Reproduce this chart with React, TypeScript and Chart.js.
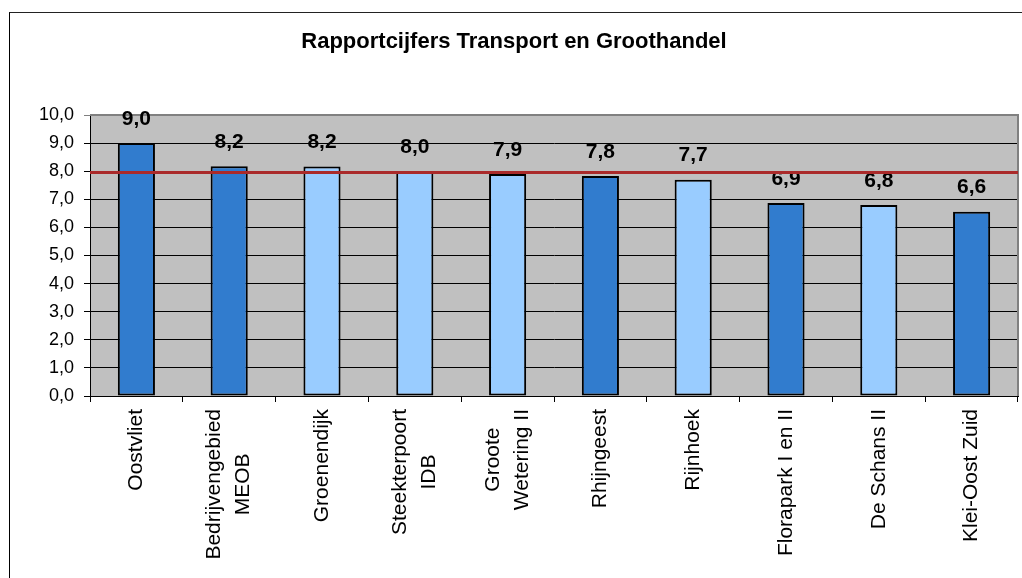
import React, { useEffect, useRef } from 'react';
import { Chart, registerables } from 'chart.js';

Chart.register(...registerables);

const TITLE = 'Rapportcijfers Transport en Groothandel';
const CATEGORIES: string[][] = [
  ['Oostvliet'],
  ['Bedrijvengebied', 'MEOB'],
  ['Groenendijk'],
  ['Steekterpoort', 'IDB'],
  ['Groote', 'Wetering II'],
  ['Rhijngeest'],
  ['Rijnhoek'],
  ['Florapark I en II'],
  ['De Schans II'],
  ['Klei-Oost Zuid'],
];
const SCORES: number[] = [9.0, 8.18, 8.17, 8.0, 7.9, 7.83, 7.7, 6.87, 6.8, 6.56];
const BAR_SHADE: string[] = ['dark', 'dark', 'light', 'light', 'light', 'dark', 'light', 'dark', 'light', 'dark'];
const REFERENCE_LINE = 7.95;
const Y_MIN = 0;
const Y_MAX = 10;
const Y_STEP = 1;

const DARK = '#317cce';
const LIGHT = '#99ccff';
const FONT = "'Liberation Sans', Arial, sans-serif";

const fmt = (v: number) => v.toFixed(1).replace('.', ',');

export default function App() {
  const ref = useRef<HTMLCanvasElement | null>(null);

  useEffect(() => {
    if (!ref.current) return;
    Chart.defaults.font.family = FONT;
    const plotBg = {
      id: 'plotBg',
      beforeDraw(chart: any) {
        const { ctx, chartArea: a } = chart;
        ctx.save();
        ctx.fillStyle = '#c0c0c0';
        ctx.fillRect(a.left, a.top, a.right - a.left, a.bottom - a.top);
        ctx.restore();
      },
      beforeDatasetsDraw(chart: any) {
        const { ctx, chartArea: a } = chart;
        ctx.save();
        ctx.strokeStyle = '#808080';
        ctx.lineWidth = 2;
        ctx.beginPath();
        ctx.moveTo(a.left, a.top);
        ctx.lineTo(a.right, a.top);
        ctx.lineTo(a.right, a.bottom);
        ctx.stroke();
        ctx.restore();
      },
    };
    const overlay = {
      id: 'overlay',
      afterDatasetsDraw(chart: any) {
        const { ctx, chartArea: a } = chart;
        const meta = chart.getDatasetMeta(0);
        ctx.save();
        ctx.font = `bold 21px ${FONT}`;
        ctx.fillStyle = '#000';
        ctx.textAlign = 'center';
        ctx.textBaseline = 'middle';
        meta.data.forEach((bar: any, i: number) => {
          ctx.fillText(fmt(SCORES[i]), bar.x, bar.y - 24);
        });
        const y = chart.scales.y.getPixelForValue(REFERENCE_LINE);
        ctx.strokeStyle = '#aa2a2a';
        ctx.lineWidth = 3;
        ctx.beginPath();
        ctx.moveTo(a.left, y);
        ctx.lineTo(a.right, y);
        ctx.stroke();
        ctx.restore();
      },
      afterDraw(chart: any) {
        const { ctx } = chart;
        const xs = chart.scales.x;
        ctx.save();
        ctx.font = `21px ${FONT}`;
        ctx.fillStyle = '#000';
        ctx.textAlign = 'center';
        ctx.textBaseline = 'middle';
        CATEGORIES.forEach((lines, i) => {
          const px = xs.getPixelForValue(i);
          const w = Math.max(...lines.map((l) => ctx.measureText(l).width));
          ctx.save();
          ctx.translate(px, xs.top + 13 + w / 2);
          ctx.rotate(-Math.PI / 2);
          lines.forEach((l, j) => ctx.fillText(l, 0, (j - (lines.length - 1) / 2) * 29));
          ctx.restore();
        });
        ctx.restore();
      },
    };

    const chart = new Chart(ref.current, {
      type: 'bar',
      data: {
        labels: CATEGORIES.map((l) => l.join(' ')),
        datasets: [
          {
            data: SCORES,
            backgroundColor: BAR_SHADE.map((s) => (s === 'dark' ? DARK : LIGHT)),
            borderColor: '#000',
            borderWidth: 2,
            borderSkipped: false,
            barPercentage: 0.4,
            categoryPercentage: 1,
          },
        ],
      },
      options: {
        animation: false,
        responsive: false,
        layout: { padding: { left: 0, right: 19, top: 0, bottom: 0 } },
        plugins: {
          legend: { display: false },
          tooltip: { enabled: false },
          title: {
            display: true,
            text: TITLE,
            color: '#000',
            font: { family: FONT, size: 22, weight: 'bold' },
            padding: { top: 15.8, bottom: 59.8 },
          },
        },
        scales: {
          x: {
            grid: {
              display: true,
              drawOnChartArea: false,
              drawTicks: true,
              tickLength: 6,
              color: '#000',
              offset: true,
            },
            border: { display: true, color: '#000', width: 1 },
            ticks: { display: false },
            afterFit(s: any) {
              s.height = 182;
            },
          },
          y: {
            min: Y_MIN,
            max: Y_MAX,
            grid: {
              color: (c: any) => (c.tick && c.tick.value === Y_MAX ? '#808080' : '#000'),
              lineWidth: 1,
              tickLength: 6,
              drawTicks: true,
            },
            border: { display: true, color: '#000', width: 1 },
            ticks: {
              stepSize: Y_STEP,
              color: '#000',
              padding: 10,
              font: { family: FONT, size: 18 },
              callback: (v: any) => fmt(Number(v)),
            },
            afterFit(s: any) {
              s.width = 80;
            },
          },
        },
      },
      plugins: [plotBg, overlay],
    });
    return () => chart.destroy();
  }, []);

  return (
    <div
      style={{
        position: 'fixed',
        left: 0,
        top: 0,
        width: 1022,
        height: 578,
        overflow: 'hidden',
        background: '#fff',
      }}
    >
      <div
        style={{
          position: 'absolute',
          left: 9,
          top: 12,
          width: 1040,
          height: 600,
          borderTop: '1px solid #222',
          borderLeft: '1px solid #000',
        }}
      >
        <canvas ref={ref} width={1027} height={565} style={{ display: 'block' }} />
      </div>
    </div>
  );
}
